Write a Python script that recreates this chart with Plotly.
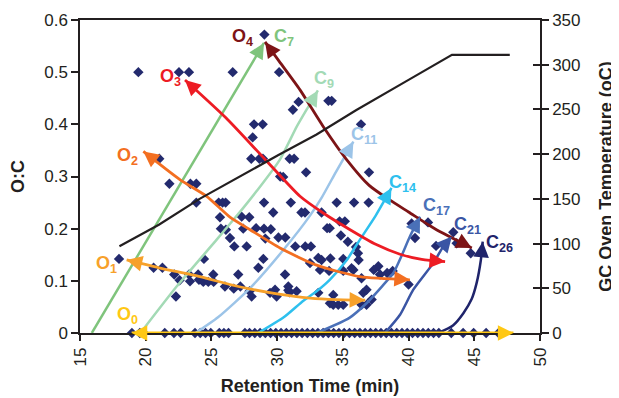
import math
import plotly.graph_objects as go

# ---------------- data ----------------
# scattered compounds (retention time, O:C)
pts_x = [19.44, 22.53, 23.29, 26.62, 29.03, 30.15, 31.63, 31.2, 28.24, 28.9, 28.14, 28.03, 28.65, 28.92,
         30.95, 31.29, 30.23, 30.46, 32.2, 21.03, 21.8, 23.4, 23.85, 33.9, 34.15, 36.38, 36.99,
         23.85, 25.55, 25.85, 26.08, 29.0, 31.04, 34.53, 35.85, 36.96,
         29.7, 31.85, 32.12, 33.38, 25.65, 27.3, 27.88, 34.75, 35.15,
         25.72, 26.1, 27.42, 28.4, 29.0, 29.52, 33.8, 34.0,
         26.41, 29.1, 30.1, 30.62, 34.85, 35.38,
         26.74, 27.68, 31.38, 32.14, 32.57, 36.0, 36.15, 36.2, 35.66,
         33.13, 33.38, 34.05, 35.03, 32.5, 24.43, 28.95, 17.97,
         28.57, 20.6, 21.27, 37.7, 37.35, 33.26, 33.95, 35.03, 35.8, 38.79,
         22.17, 23.3, 23.99, 25.14, 27.04, 30.6, 37.83, 38.37,
         22.58, 23.37, 24.05, 24.38, 24.76, 25.17, 36.42,
         26.03, 26.7, 27.2, 27.9, 28.06, 29.46, 29.84, 29.96, 30.85, 30.85, 30.95, 31.48, 22.3,
         33.13, 34.27, 34.02, 34.27, 34.65, 35.03, 36.55, 37.19, 36.42, 36.8, 36.8, 40.0,
         40.23, 41.48, 40.49, 42.09, 43.4, 43.66, 44.73]
pts_y = [0.5, 0.5, 0.5, 0.5, 0.572, 0.5, 0.443, 0.428, 0.4, 0.4, 0.375, 0.334, 0.334, 0.334,
         0.334, 0.334, 0.3, 0.299, 0.308, 0.334, 0.286, 0.286, 0.286, 0.445, 0.445, 0.4, 0.308,
         0.25, 0.25, 0.25, 0.25, 0.25, 0.25, 0.25, 0.25, 0.25,
         0.231, 0.231, 0.231, 0.231, 0.222, 0.223, 0.222, 0.214, 0.214,
         0.2, 0.198, 0.2, 0.201, 0.2, 0.199, 0.201, 0.201,
         0.182, 0.181, 0.183, 0.183, 0.187, 0.175,
         0.166, 0.166, 0.166, 0.166, 0.166, 0.165, 0.153, 0.14, 0.124,
         0.144, 0.14, 0.143, 0.142, 0.134, 0.142, 0.142, 0.142,
         0.125, 0.125, 0.125, 0.128, 0.121, 0.121, 0.119, 0.119, 0.121, 0.119,
         0.112, 0.112, 0.112, 0.112, 0.112, 0.112, 0.112, 0.115,
         0.101, 0.099, 0.102, 0.098, 0.098, 0.098, 0.105,
         0.089, 0.085, 0.089, 0.08, 0.07, 0.077, 0.083, 0.07, 0.089, 0.082, 0.078, 0.08, 0.07,
         0.077, 0.073, 0.057, 0.054, 0.054, 0.054, 0.077, 0.064, 0.054, 0.054, 0.083, 0.093,
         0.21, 0.212, 0.182, 0.167, 0.193, 0.172, 0.153]
# compounds with O:C = 0
zero_x = [18.95, 19.55, 19.85, 21.45, 22.15, 22.65, 23.75, 24.15, 24.55, 24.95, 25.6, 25.95, 26.3,
          27.55, 27.9, 28.3, 28.7, 29.1, 29.5, 29.9, 30.3, 30.7, 31.1, 31.5, 31.9, 32.3, 32.7, 33.1,
          33.5, 33.9, 34.3, 34.7, 35.1, 35.5, 35.9, 36.3, 36.7, 37.1, 37.5, 37.9, 38.3, 38.7, 39.1,
          39.5, 39.9, 40.3, 40.7, 41.1, 41.5, 41.9, 42.3, 43.25, 44.15, 44.95, 45.9, 46.85]
zero_y = [0.0] * len(zero_x)

# GC oven temperature programme
temp_x = [18, 21, 24.1, 27, 30.1, 33, 36, 40, 43.3, 47.7]
temp_y = [97, 121, 150, 174, 199, 222, 249, 283, 311, 311]

# carbon-number lines
c_names = ["7", "9", "11", "14", "17", "21", "26"]
c_colors = ["#7fc47c", "#a3dab5", "#9cc4e8", "#2ec0ee", "#4a70b8", "#3a55a4", "#1f246b"]
c_x = [[15.9, 29.0],
       [19.6, 22.35, 25.4, 27.3, 28.44, 30.2, 31.5, 32.4, 33.1],
       [23.8, 25.5, 27.94, 30.5, 32.5, 33.4, 34.5, 35.8],
       [28.56, 30.5, 32.0, 33.0, 34.0, 35.3, 36.3, 37.5, 38.7],
       [33.0, 35.5, 36.8, 38.0, 38.84, 39.5, 40.1, 40.87],
       [38.2, 39.35, 40.36, 41.88, 42.64, 43.29],
       [42.27, 43.4, 44.17, 44.8, 45.18, 45.5, 45.64]]
c_y = [[0.0, 0.556],
       [0.0, 0.089, 0.179, 0.236, 0.272, 0.332, 0.396, 0.435, 0.465],
       [0.0, 0.03, 0.086, 0.16, 0.225, 0.26, 0.31, 0.367],
       [0.0, 0.03, 0.062, 0.08, 0.102, 0.14, 0.179, 0.225, 0.278],
       [0.0, 0.029, 0.057, 0.09, 0.115, 0.15, 0.185, 0.223],
       [0.0, 0.035, 0.083, 0.134, 0.166, 0.185],
       [0.0, 0.015, 0.038, 0.065, 0.096, 0.14, 0.175]]
c_lab_x = [30.5, 33.56, 36.6, 39.5, 42.16, 44.45, 46.9]
c_lab_y = [0.567, 0.485, 0.378, 0.286, 0.242, 0.207, 0.171]

# oxygen-number lines
o_names = ["0", "1", "2", "3", "4"]
o_colors = ["#ffc814", "#f7a12a", "#f36f21", "#ed1c24", "#7d1416"]
o_x = [[18.93, 47.98],
       [18.55, 21.0, 24.13, 26.4, 28.0, 30.0, 32.5, 34.5, 36.7],
       [19.82, 22.6, 24.64, 26.41, 27.94, 30.22, 33.0, 36.3, 40.1],
       [22.99, 26.08, 29.0, 31.74, 33.5, 35.55, 37.5, 39.35, 41.0, 42.78],
       [29.08, 30.09, 31.74, 33.5, 35.3, 37.0, 38.5, 40.0, 42.0, 44.81]]
o_y = [[0.0, 0.0],
       [0.14, 0.125, 0.108, 0.093, 0.084, 0.075, 0.067, 0.064, 0.063],
       [0.348, 0.294, 0.262, 0.222, 0.198, 0.163, 0.13, 0.108, 0.102],
       [0.485, 0.413, 0.335, 0.262, 0.23, 0.198, 0.17, 0.151, 0.141, 0.137],
       [0.558, 0.523, 0.466, 0.396, 0.332, 0.283, 0.256, 0.232, 0.2, 0.163]]
o_lab_x = [18.58, 16.98, 18.65, 21.9, 27.4]
o_lab_y = [0.033, 0.131, 0.338, 0.49, 0.567]

x_ticks = [15, 20, 25, 30, 35, 40, 45, 50]
y_ticks = [0, 0.1, 0.2, 0.3, 0.4, 0.5, 0.6]
y_tick_text = ["0", "0.1", "0.2", "0.3", "0.4", "0.5", "0.6"]
t_ticks = [0, 50, 100, 150, 200, 250, 300, 350]

# ---------------- figure ----------------
FONT = "Arial, Liberation Sans, Helvetica, sans-serif"
INK = "#231f20"
NAVY = "#232a6e"
# the page body keeps an 8px margin, so the figure is 8px smaller and its
# left/top margins 8px narrower to land the plot area where the reference has it
W, H = 611, 390
ML, MR, MT, MB = 72, 79, 12, 65
XR, YR = (15, 50), (0, 0.6)
PW, PH = W - ML - MR, H - MT - MB

fig = go.Figure()

fig.add_trace(go.Scatter(x=pts_x + zero_x, y=pts_y + zero_y, mode="markers",
                         marker=dict(symbol="diamond", size=8, color=NAVY),
                         cliponaxis=False, hoverinfo="skip"))

for xs, ys, col in zip(c_x, c_y, c_colors):
    fig.add_trace(go.Scatter(x=xs, y=ys, mode="lines", line=dict(color=col, width=2.5, shape="spline", smoothing=0.6),
                             cliponaxis=False, hoverinfo="skip"))
for xs, ys, col in zip(o_x, o_y, o_colors):
    fig.add_trace(go.Scatter(x=xs, y=ys, mode="lines", line=dict(color=col, width=2.8, shape="spline", smoothing=0.6),
                             cliponaxis=False, hoverinfo="skip"))

fig.add_trace(go.Scatter(x=temp_x, y=temp_y, yaxis="y2", mode="lines",
                         line=dict(color=INK, width=2.2), hoverinfo="skip"))
fig.add_trace(go.Scatter(x=[None], y=[None], yaxis="y3", mode="lines", hoverinfo="skip"))


def head(xs, ys, at_end, col):
    if at_end:
        x1, y1, x0, y0 = xs[-1], ys[-1], xs[-2], ys[-2]
    else:
        x1, y1, x0, y0 = xs[0], ys[0], xs[1], ys[1]
    dx = (x1 - x0) / (XR[1] - XR[0]) * PW
    dy = (y1 - y0) / (YR[1] - YR[0]) * PH
    n = math.hypot(dx, dy)
    L = 16
    fig.add_annotation(x=x1, y=y1, xref="x", yref="y", ax=-dx / n * L, ay=dy / n * L,
                       axref="pixel", ayref="pixel", text="", showarrow=True,
                       arrowhead=2, arrowsize=1.2, arrowwidth=2.6, arrowcolor=col, standoff=0)


for xs, ys, col in zip(c_x, c_y, c_colors):
    head(xs, ys, True, col)
for xs, ys, col in zip(o_x, o_y, o_colors):
    head(xs, ys, True, col)
    head(xs, ys, False, col)

for name, lx, ly, col in zip(c_names, c_lab_x, c_lab_y, c_colors):
    fig.add_annotation(x=lx, y=ly, xref="x", yref="y", showarrow=False,
                       text="<b>C<sub>%s</sub></b>" % name,
                       font=dict(family=FONT, size=18, color=col))
for name, lx, ly, col in zip(o_names, o_lab_x, o_lab_y, o_colors):
    fig.add_annotation(x=lx, y=ly, xref="x", yref="y", showarrow=False,
                       text="<b>O<sub>%s</sub></b>" % name,
                       font=dict(family=FONT, size=18, color=col))

tickfont = dict(family=FONT, size=17, color=INK)
titlefont = dict(family=FONT, size=18, color=INK)

fig.update_layout(
    width=W, height=H, margin=dict(l=ML, r=MR, t=MT, b=MB),
    paper_bgcolor="white", plot_bgcolor="white", showlegend=False,
    xaxis=dict(range=list(XR), tickvals=x_ticks, ticktext=[str(v) for v in x_ticks], tickangle=-90,
               ticks="outside", ticklen=6, tickwidth=1.5, tickcolor=INK, automargin=False,
               showline=True, linecolor=INK, linewidth=1.5, mirror=True,
               showgrid=False, zeroline=False, tickfont=tickfont,
               title=dict(text="<b>Retention Time (min)</b>", font=titlefont, standoff=14)),
    yaxis=dict(range=list(YR), tickvals=y_ticks, ticktext=y_tick_text, automargin=False,
               ticks="outside", ticklen=7, tickwidth=1.5, tickcolor=INK,
               showline=True, linecolor=INK, linewidth=1.5,
               showgrid=False, zeroline=False, tickfont=tickfont,
               title=dict(text="<b>O:C</b>", font=titlefont, standoff=15)),
    yaxis2=dict(range=[0, 350], overlaying="y", side="right", anchor="x", tickvals=t_ticks,
                ticks="outside", ticklen=7, tickwidth=1.5, tickcolor=INK, automargin=False,
                showline=True, linecolor=INK, linewidth=1.5,
                showgrid=False, zeroline=False, tickfont=tickfont,
                title=dict(text="<b>GC Oven Temperature (oC)</b>", font=titlefont, standoff=20)),
    yaxis3=dict(range=[0, 350], overlaying="y", side="right", anchor="x", tickvals=t_ticks,
                ticks="inside", ticklen=7, tickwidth=1.5, tickcolor=INK, automargin=False,
                showticklabels=False, showline=False, showgrid=False, zeroline=False),
)

fig.write_html("out.html")
